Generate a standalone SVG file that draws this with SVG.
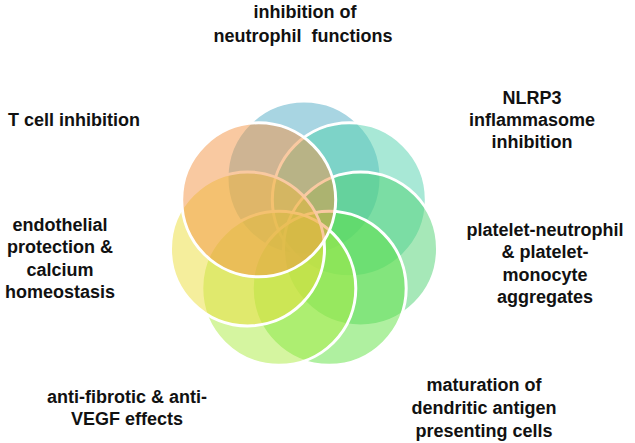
<svg xmlns="http://www.w3.org/2000/svg" width="635" height="443" viewBox="0 0 635 443">
<style>
.c{stroke:#fff;stroke-width:3;fill-opacity:0.5}
.t{font-family:"Liberation Sans",Arial,sans-serif;font-weight:bold;font-size:18px;fill:#111;text-anchor:middle;white-space:pre}
</style>
<rect width="635" height="443" fill="#fff"/>
<g id="petals">
<g id="n-blue"><circle class="c" cx="304" cy="178" r="77" fill="#51abc5"/></g>
<g id="n-teal"><circle class="c" cx="349.3" cy="199.8" r="77" fill="#51d1ad"/></g>
<g id="n-green"><circle class="c" cx="360.5" cy="248.9" r="77" fill="#4dd171"/></g>
<g id="n-green2"><circle class="c" cx="329.2" cy="288.3" r="77" fill="#5fe141"/></g>
<g id="n-lime"><circle class="c" cx="278.8" cy="288.3" r="77" fill="#abeb41"/></g>
<g id="n-yellow"><circle class="c" cx="247.5" cy="248.9" r="77" fill="#ebdd39"/></g>
<g id="n-orange"><circle class="c" cx="258.7" cy="199.8" r="77" fill="#f39343"/></g>
</g>
<g id="connectors"></g>
<g id="labels">
<g id="l-top"><text class="t" x="305" y="18">inhibition of</text><text class="t" x="303" y="42">neutrophil  functions</text></g>
<g id="l-tcell"><text class="t" x="74" y="126">T cell inhibition</text></g>
<g id="l-nlrp3"><text class="t" x="532" y="104">NLRP3</text><text class="t" x="532" y="126">inflammasome</text><text class="t" x="532" y="148">inhibition</text></g>
<g id="l-endo"><text class="t" x="60" y="231">endothelial</text><text class="t" x="60" y="253">protection &amp;</text><text class="t" x="60" y="276">calcium</text><text class="t" x="60" y="298">homeostasis</text></g>
<g id="l-platelet"><text class="t" x="545" y="236">platelet-neutrophil</text><text class="t" x="545" y="258">&amp; platelet-</text><text class="t" x="545" y="281">monocyte</text><text class="t" x="545" y="303">aggregates</text></g>
<g id="l-fib"><text class="t" x="127" y="403">anti-fibrotic &amp; anti-</text><text class="t" x="127" y="425">VEGF effects</text></g>
<g id="l-mat"><text class="t" x="484" y="391">maturation of</text><text class="t" x="484" y="414">dendritic antigen</text><text class="t" x="484" y="437">presenting cells</text></g>
</g>
</svg>
